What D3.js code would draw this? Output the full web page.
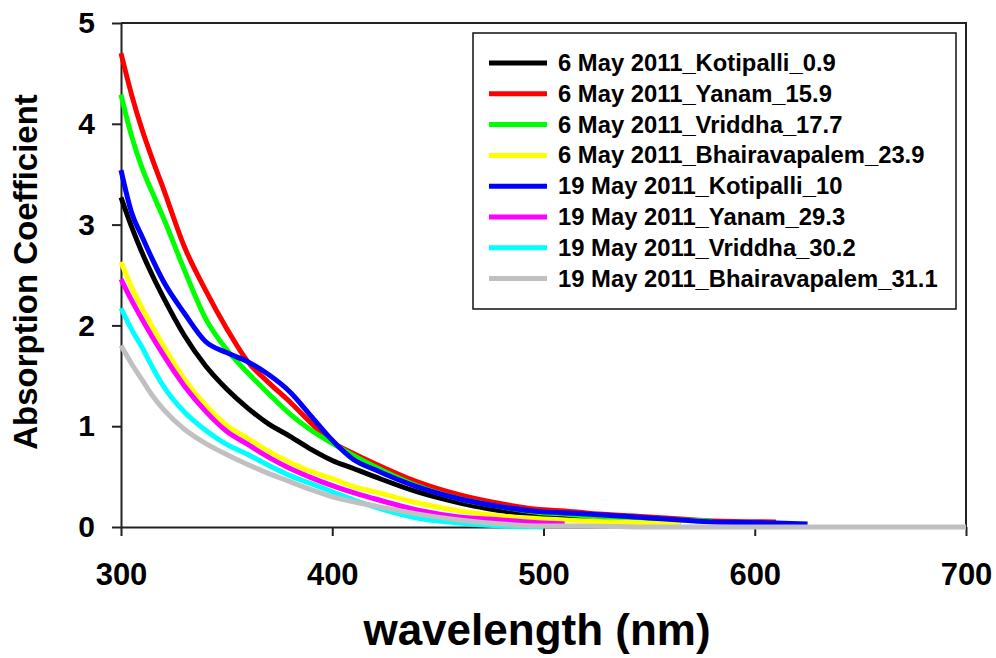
<!DOCTYPE html>
<html>
<head>
<meta charset="utf-8">
<script src="https://cdn.jsdelivr.net/npm/d3@7"></script>
<style>
body { margin: 0; background: #fff; }
text { font-family: "Liberation Sans", Arial, sans-serif; font-weight: bold; fill: #000; }
</style>
</head>
<body>
<div id="chart"></div>
<script>

// wavelength grid (nm), each series runs as far as its own value array
var wavelengths = [300,305,310,315,320,330,340,350,360,370,380,390,400,410,420,440,460,480,500,510,520,550,565,580,610,625,700];

var kotipalli_6may = [3.27,2.98,2.72,2.49,2.28,1.90,1.60,1.37,1.18,1.02,0.90,0.77,0.66,0.58,0.50,0.35,0.24,0.16,0.12,0.10,0.09,0.06,0.05];
var yanam_6may = [4.70,4.29,3.94,3.64,3.36,2.78,2.35,1.97,1.64,1.43,1.24,1.03,0.84,0.73,0.63,0.45,0.32,0.23,0.17,0.16,0.14,0.10,0.08,0.06,0.05];
var vriddha_6may = [4.29,3.88,3.56,3.31,3.07,2.55,2.07,1.76,1.53,1.32,1.12,0.96,0.83,0.71,0.60,0.41,0.28,0.20,0.14,0.13,0.11,0.08,0.07,0.06];
var bhairavapalem_6may = [2.63,2.38,2.17,1.98,1.80,1.47,1.21,1.01,0.88,0.75,0.64,0.55,0.48,0.40,0.35,0.24,0.16,0.11,0.08,0.07,0.06,0.04,0.03];
var kotipalli_19may = [3.54,3.12,2.88,2.65,2.44,2.12,1.84,1.73,1.64,1.51,1.34,1.10,0.86,0.67,0.57,0.40,0.28,0.20,0.15,0.14,0.13,0.09,0.07,0.05,0.04,0.03];
var yanam_19may = [2.46,2.25,2.06,1.88,1.71,1.40,1.15,0.95,0.82,0.69,0.58,0.49,0.41,0.34,0.28,0.17,0.10,0.07,0.04,0.03];
var vriddha_19may = [2.17,1.96,1.78,1.58,1.40,1.14,0.96,0.82,0.72,0.61,0.51,0.43,0.35,0.27,0.20,0.09,0.04,0.01,0.00];
var bhairavapalem_19may = [1.80,1.62,1.46,1.30,1.17,0.97,0.83,0.72,0.62,0.53,0.45,0.37,0.30,0.25,0.21,0.13,0.07,0.03,0.01,0.01,0.01,0.00,0.00,0.00,0.00,0.00,0.00];

var seriesNames = ["6 May 2011_Kotipalli_0.9","6 May 2011_Yanam_15.9","6 May 2011_Vriddha_17.7","6 May 2011_Bhairavapalem_23.9",
                   "19 May 2011_Kotipalli_10","19 May 2011_Yanam_29.3","19 May 2011_Vriddha_30.2","19 May 2011_Bhairavapalem_31.1"];
var seriesValues = [kotipalli_6may,yanam_6may,vriddha_6may,bhairavapalem_6may,kotipalli_19may,yanam_19may,vriddha_19may,bhairavapalem_19may];
var seriesColors = ["#000000","#ff0000","#00ff00","#ffff00","#0000ff","#ff00ff","#00ffff","#c0c0c0"];

var xTicks = [300,400,500,600,700];
var yTicks = [0,1,2,3,4,5];

function init() {

	var w = 996;
	var h = 658;

	// plot frame
	var left = 121, right = 966, top = 23, bottom = 527;

	var svg = d3.select("#chart")
							.append("svg")
							.attr("width", w)
							.attr("height", h);

	var xScale = d3.scaleLinear()
								 .domain([300,700])
								 .range([left,right]);

	var yScale = d3.scaleLinear()
								 .domain([0,5])
								 .range([bottom,top]);

	// top and right border
	svg.append("path")
			.attr("d", "M" + left + "," + top + "H" + right + "V" + bottom)
			.attr("fill", "none")
			.attr("stroke", "#222")
			.attr("stroke-width", 2);

	var xAxis = svg.append("g")
			.attr("transform", "translate(0," + bottom + ")")
			.call(d3.axisBottom(xScale).tickValues(xTicks).tickFormat(d3.format("d"))
						.tickSize(9).tickPadding(27).tickSizeOuter(0));

	var yAxis = svg.append("g")
			.attr("transform", "translate(" + left + ",0)")
			.call(d3.axisLeft(yScale).tickValues(yTicks).tickFormat(d3.format("d"))
						.tickSize(9).tickPadding(17).tickSizeOuter(0));

	svg.selectAll(".domain").attr("stroke", "#222").attr("stroke-width", 2);
	svg.selectAll(".tick line").attr("stroke", "#222").attr("stroke-width", 2);
	xAxis.selectAll("text").style("font-size", "31px");
	yAxis.selectAll("text").style("font-size", "30px");

	var line = d3.line()
							 .x(function(d){ return xScale(d[0]); })
							 .y(function(d){ return yScale(d[1]); })
							 .curve(d3.curveMonotoneX);

	svg.selectAll(".series")
			.data(seriesValues)
			.enter()
			.append("path")
			.attr("class", "series")
			.attr("d", function(vals){
				return line(vals.map(function(v,i){ return [wavelengths[i], v]; }));
			})
			.attr("fill", "none")
			.attr("stroke", function(d,i){ return seriesColors[i]; })
			.attr("stroke-width", 5)
			.attr("stroke-linejoin", "round");

	// legend
	var lx = 473, ly = 33;
	svg.append("rect")
			.attr("x", lx)
			.attr("y", ly)
			.attr("width", 483)
			.attr("height", 276)
			.attr("fill", "#fff")
			.attr("stroke", "#111")
			.attr("stroke-width", 1.5);

	var rows = svg.selectAll(".legrow")
			.data(seriesNames)
			.enter()
			.append("g")
			.attr("class", "legrow")
			.attr("transform", function(d,i){ return "translate(0," + (63 + i * 30.8) + ")"; });

	rows.append("line")
			.attr("x1", 489)
			.attr("x2", 547)
			.attr("stroke", function(d,i){ return seriesColors[i]; })
			.attr("stroke-width", 5);

	rows.append("text")
			.attr("x", 558)
			.attr("y", 8)
			.style("font-size", "23.8px")
			.text(function(d){ return d; });

	// axis titles
	svg.append("text")
			.attr("x", 537)
			.attr("y", 645)
			.attr("text-anchor", "middle")
			.style("font-size", "44px")
			.text("wavelength (nm)");

	svg.append("text")
			.attr("transform", "translate(37,272) rotate(-90)")
			.attr("text-anchor", "middle")
			.style("font-size", "33px")
			.text("Absorption Coefficient");

}

window.onload = init;
</script>
</body>
</html>
